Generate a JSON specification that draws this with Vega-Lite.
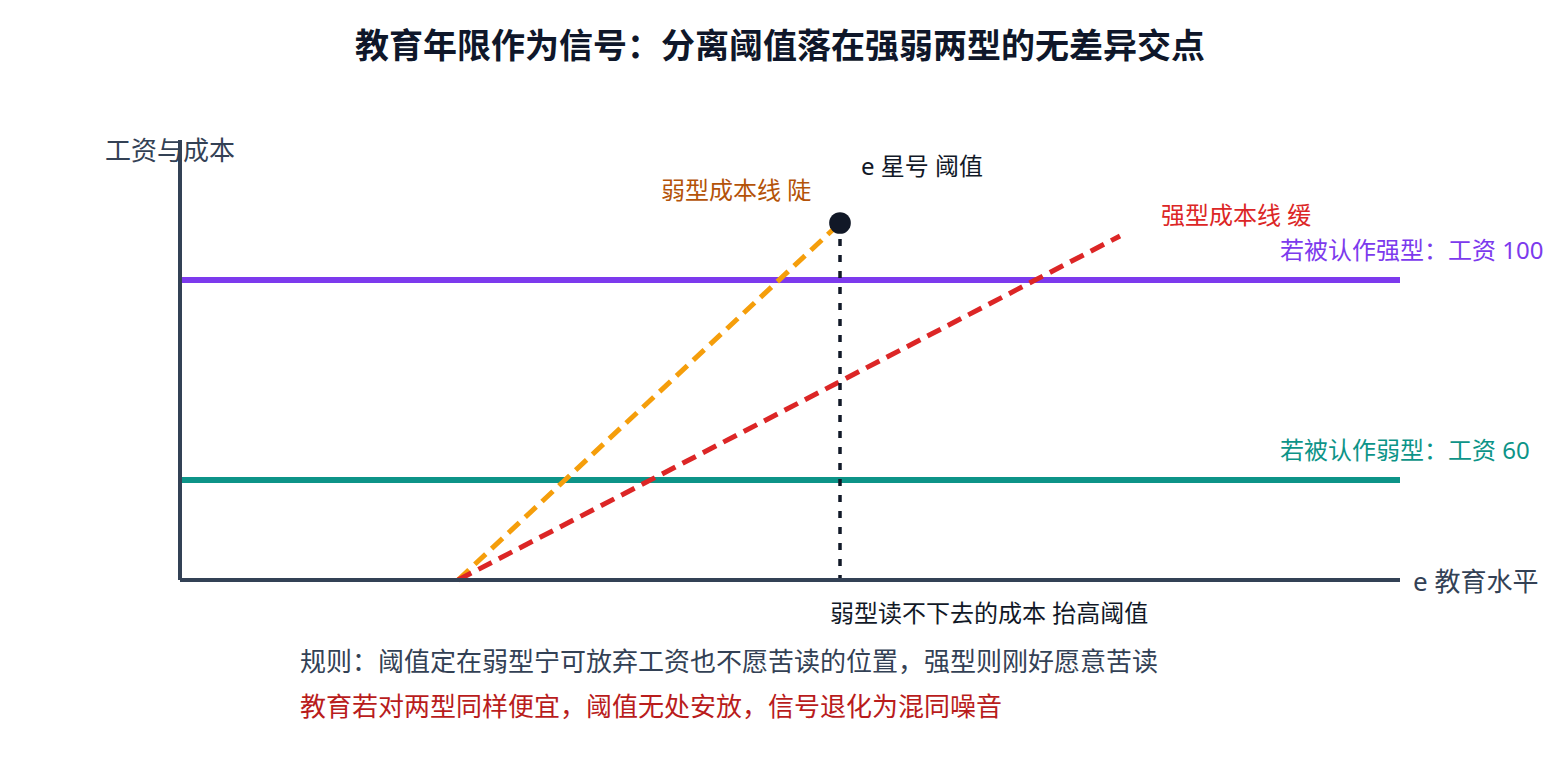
{
  "$schema": "https://vega.github.io/schema/vega-lite/v6.json",
  "width": 1560,
  "height": 760,
  "autosize": {"type": "none"},
  "padding": 0,
  "background": "#ffffff",
  "view": {"stroke": null},
  "config": {"font": "'Noto Sans', 'Noto Sans CJK SC'", "text": {"font": "'Noto Sans', 'Noto Sans CJK SC'"}},
  "datasets": {
    "axes": [
      {"name": "y轴", "x": 0, "y": 40, "x2": 0, "y2": 128},
      {"name": "x轴", "x": 0, "y": 40, "x2": 12.2, "y2": 40}
    ],
    "wages": [
      {"kind": "high", "x": 0, "x2": 12.2, "y": 100},
      {"kind": "low", "x": 0, "x2": 12.2, "y": 60}
    ],
    "costs": [
      {"series": "weak", "x": 2.78, "y": 40},
      {"series": "weak", "x": 6.6, "y": 111.4},
      {"series": "strong", "x": 2.78, "y": 40},
      {"series": "strong", "x": 9.4, "y": 108.8}
    ],
    "threshold": [
      {"x": 6.6, "y": 111.4, "y2": 40}
    ],
    "titleText": [
      {"text": "教育年限作为信号：分离阈值落在强弱两型的无差异交点", "x": 6.0, "y": 146.4, "kind": "title"}
    ],
    "bigLabels": [
      {"text": "工资与成本", "x": -0.75, "y": 125.6, "kind": "axis"},
      {"text": "e 教育水平", "x": 12.33, "y": 39.4, "kind": "axis"},
      {"text": "规则：阈值定在弱型宁可放弃工资也不愿苦读的位置，强型则刚好愿意苦读", "x": 1.2, "y": 23.4, "kind": "axis"},
      {"text": "教育若对两型同样便宜，阈值无处安放，信号退化为混同噪音", "x": 1.2, "y": 14.4, "kind": "note"}
    ],
    "smallLabels": [
      {"text": "e 星号 阈值", "x": 6.81, "y": 122.4, "kind": "dark"},
      {"text": "弱型成本线 陡", "x": 4.81, "y": 117.6, "kind": "weak"},
      {"text": "强型成本线 缓", "x": 9.81, "y": 112.6, "kind": "strong"},
      {"text": "若被认作强型：工资 100", "x": 11.0, "y": 105.6, "kind": "high"},
      {"text": "若被认作弱型：工资 60", "x": 11.0, "y": 65.6, "kind": "low"},
      {"text": "弱型读不下去的成本 抬高阈值", "x": 6.5, "y": 33, "kind": "dark"}
    ]
  },
  "encoding": {
    "x": {"field": "x", "type": "quantitative", "scale": {"domain": [-1.8, 13.8], "nice": false, "zero": false}, "axis": null},
    "y": {"field": "y", "type": "quantitative", "scale": {"domain": [4, 156], "nice": false, "zero": false}, "axis": null}
  },
  "layer": [
    {
      "data": {"name": "wages"},
      "mark": {"type": "rule", "strokeWidth": 6},
      "encoding": {
        "x2": {"field": "x2"},
        "color": {"field": "kind", "type": "nominal", "legend": null,
          "scale": {"domain": ["title", "axis", "note", "dark", "weak", "strong", "high", "low"],
                    "range": ["#0f172a", "#334155", "#b91c1c", "#111827", "#b45309", "#dc2626", "#7c3aed", "#0d9488"]}}
      }
    },
    {
      "data": {"name": "costs"},
      "transform": [{"filter": "datum.series === 'weak'"}],
      "mark": {"type": "line", "color": "#f59e0b", "strokeWidth": 5, "strokeDash": [15, 8]},
      "encoding": {}
    },
    {
      "data": {"name": "costs"},
      "transform": [{"filter": "datum.series === 'strong'"}],
      "mark": {"type": "line", "color": "#dc2626", "strokeWidth": 5, "strokeDash": [15, 8]},
      "encoding": {}
    },
    {
      "data": {"name": "threshold"},
      "mark": {"type": "rule", "color": "#111827", "strokeWidth": 3.5, "strokeDash": [7, 9]},
      "encoding": {"y2": {"field": "y2"}}
    },
    {
      "data": {"name": "threshold"},
      "mark": {"type": "point", "filled": true, "opacity": 1, "color": "#111827", "size": 470, "shape": "circle"},
      "encoding": {}
    },
    {
      "data": {"name": "titleText"},
      "mark": {"type": "text", "fontSize": 34, "fontWeight": "bold", "align": "center", "baseline": "middle"},
      "encoding": {
        "text": {"field": "text"},
        "color": {"field": "kind", "type": "nominal", "legend": null}
      }
    },
    {
      "data": {"name": "bigLabels"},
      "mark": {"type": "text", "fontSize": 26, "align": "left", "baseline": "middle"},
      "encoding": {
        "text": {"field": "text"},
        "color": {"field": "kind", "type": "nominal", "legend": null}
      }
    },
    {
      "data": {"name": "smallLabels"},
      "mark": {"type": "text", "fontSize": 24, "align": "left", "baseline": "middle"},
      "encoding": {
        "text": {"field": "text"},
        "color": {"field": "kind", "type": "nominal", "legend": null}
      }
    },
    {
      "data": {"name": "axes"},
      "mark": {"type": "rule", "color": "#334155", "strokeWidth": 4},
      "encoding": {"x2": {"field": "x2"}, "y2": {"field": "y2"}}
    }
  ]
}
